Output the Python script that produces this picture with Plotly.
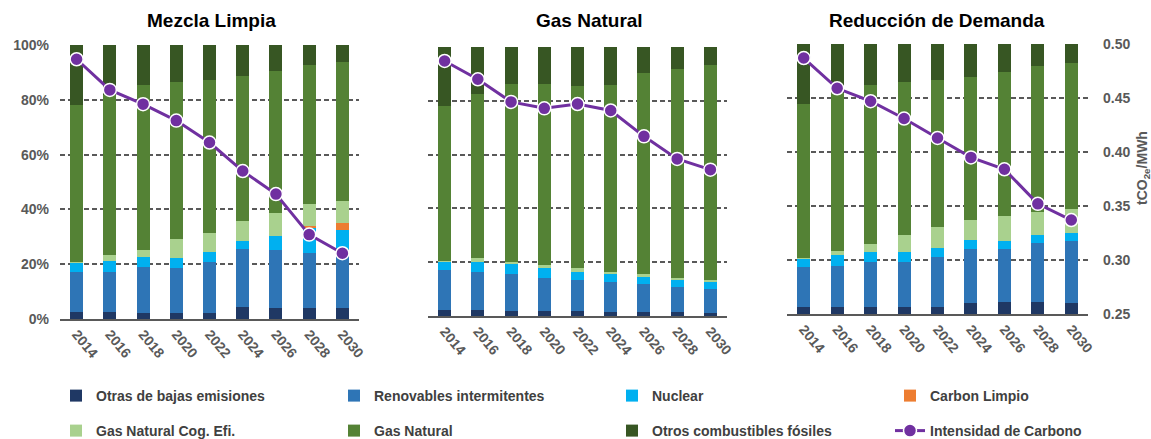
import plotly.graph_objects as go

W, H = 1151, 439

years = ["2014", "2016", "2018", "2020", "2022", "2024", "2026", "2028", "2030"]
panel_titles = ["Mezcla Limpia", "Gas Natural", "Reducción de Demanda"]
series_names = ["Otras de bajas emisiones", "Renovables intermitentes", "Nuclear",
                "Carbon Limpio", "Gas Natural Cog. Efi.", "Gas Natural",
                "Otros combustibles fósiles"]
line_name = "Intensidad de Carbono"
y_ticks_pct = [0, 20, 40, 60, 80, 100]
y_tick_labels = ["0%", "20%", "40%", "60%", "80%", "100%"]
y_ticks_int = [0.25, 0.30, 0.35, 0.40, 0.45, 0.50]
y2_title = "tCO<sub>2e</sub>/MWh"

# ---- Mezcla Limpia (share of generation, %) ----
ml_otras = [2.4, 2.4, 2.1, 2.1, 2.1, 4.5, 4.1, 3.9, 3.9]
ml_renov = [14.9, 14.9, 17.0, 16.6, 18.8, 21.2, 21.2, 20.3, 21.6]
ml_nuclear = [3.3, 3.9, 3.6, 3.7, 3.4, 2.9, 5.0, 8.9, 7.0]
ml_carbon = [0, 0, 0, 0, 0, 0, 0, 0.8, 2.7]
ml_cog = [0.2, 2.0, 2.6, 6.9, 7.2, 7.3, 8.3, 7.9, 7.9]
ml_gas = [57.3, 58.6, 60.1, 57.1, 55.8, 52.8, 52.0, 50.8, 50.8]
ml_fosiles = [21.9, 18.2, 14.6, 13.6, 12.7, 11.3, 9.4, 7.4, 6.1]
ml_intensidad = [0.487, 0.459, 0.446, 0.431, 0.411, 0.385, 0.364, 0.327, 0.310]

# ---- Gas Natural ----
gn_otras = [2.2, 2.2, 1.9, 1.9, 1.9, 1.5, 1.5, 1.5, 1.1]
gn_renov = [14.9, 14.1, 13.7, 12.4, 11.6, 11.0, 10.4, 9.4, 9.1]
gn_nuclear = [3.1, 3.8, 3.6, 3.7, 3.0, 3.0, 2.7, 2.6, 2.3]
gn_carbon = [0, 0, 0, 0, 0, 0, 0, 0, 0]
gn_cog = [0.2, 1.6, 1.0, 1.0, 1.5, 1.0, 1.0, 0.8, 1.0]
gn_gas = [57.8, 60.8, 66.0, 67.2, 67.6, 69.4, 74.7, 77.6, 79.8]
gn_fosiles = [21.8, 17.5, 13.8, 13.8, 14.4, 14.1, 9.7, 8.1, 6.7]
gn_intensidad = [0.487, 0.470, 0.449, 0.443, 0.447, 0.441, 0.417, 0.396, 0.386]

# ---- Reducción de Demanda ----
rd_otras = [2.5, 2.5, 2.5, 2.5, 2.5, 4.1, 4.4, 4.3, 4.0]
rd_renov = [15.0, 15.4, 16.9, 16.9, 18.6, 20.1, 19.8, 22.1, 23.0]
rd_nuclear = [2.9, 3.8, 3.7, 3.7, 3.5, 3.3, 3.0, 2.9, 2.9]
rd_carbon = [0, 0, 0, 0, 0, 0, 0, 0, 0]
rd_cog = [0.2, 1.8, 2.7, 6.0, 7.7, 7.3, 9.0, 8.6, 9.0]
rd_gas = [57.2, 58.2, 59.0, 56.7, 54.5, 53.0, 53.6, 54.0, 54.2]
rd_fosiles = [22.2, 18.3, 15.2, 14.2, 13.2, 12.2, 10.2, 8.1, 6.9]
rd_intensidad = [0.487, 0.459, 0.447, 0.431, 0.413, 0.395, 0.384, 0.352, 0.337]

panels = [
    [ml_otras, ml_renov, ml_nuclear, ml_carbon, ml_cog, ml_gas, ml_fosiles, ml_intensidad],
    [gn_otras, gn_renov, gn_nuclear, gn_carbon, gn_cog, gn_gas, gn_fosiles, gn_intensidad],
    [rd_otras, rd_renov, rd_nuclear, rd_carbon, rd_cog, rd_gas, rd_fosiles, rd_intensidad],
]

colors = ["#1F3864", "#2E75B6", "#00B0F0", "#ED7D31", "#A9D18E", "#548235", "#375623"]
line_color = "#7030A0"
grey = "#595959"
FONT = "Liberation Sans, Arial, sans-serif"

# pixel geometry of the three plot areas: (x0, x1, ytop, ybottom)
boxes = [(60, 359, 45, 319), (428, 727, 47, 316), (787, 1088, 44, 314)]

fig = go.Figure()

legend_ids = ["legend", "legend2", "legend3", "legend4", "legend5", "legend6", "legend7", "legend8"]

for p, data in enumerate(panels):
    xa = "x" if p == 0 else f"x{p+1}"
    ya = "y" if p == 0 else f"y{p+1}"
    ya2 = f"y{p+4}"
    for s in range(7):
        fig.add_trace(go.Bar(
            x=years, y=data[s], name=series_names[s], marker_color=colors[s],
            marker_line_width=0, width=0.39, xaxis=xa, yaxis=ya,
            showlegend=(p == 0), legend=legend_ids[s],
        ))
    fig.add_trace(go.Scatter(
        x=years, y=data[7], name=line_name, mode="lines+markers",
        line=dict(color=line_color, width=3),
        marker=dict(size=13, color=line_color, line=dict(color="white", width=1.5)),
        xaxis=xa, yaxis=ya2, showlegend=(p == 0), legend=legend_ids[7],
    ))

layout = dict(
    width=W, height=H,
    margin=dict(l=0, r=0, t=0, b=0, autoexpand=False),
    paper_bgcolor="white", plot_bgcolor="rgba(0,0,0,0)",
    barmode="stack", bargap=0.6,
    font=dict(family=FONT, color=grey),
    showlegend=True,
)

tickfont = dict(family=FONT, size=14, color=grey, weight="bold")

for p, (x0, x1, yt, yb) in enumerate(boxes):
    xk = "xaxis" if p == 0 else f"xaxis{p+1}"
    yk = "yaxis" if p == 0 else f"yaxis{p+1}"
    yk2 = f"yaxis{p+4}"
    xa = "x" if p == 0 else f"x{p+1}"
    ya = "y" if p == 0 else f"y{p+1}"
    layout[xk] = dict(
        domain=[x0 / W, x1 / W], anchor=ya, type="category",
        showline=True, linecolor=grey, linewidth=1.5, ticks="",
        tickangle=50, tickfont=tickfont, showgrid=False, automargin=False,
        range=[-0.5, 8.5],
    )
    layout[yk] = dict(
        domain=[1 - yb / H, 1 - yt / H], anchor=xa, range=[0, 100],
        tickmode="array", tickvals=y_ticks_pct, ticktext=y_tick_labels,
        showticklabels=(p == 0),
        tickfont=tickfont, ticklabelstandoff=10,
        showgrid=True, gridcolor=grey, gridwidth=1.5, griddash="5px,3px",
        zeroline=False, showline=False, ticks="", automargin=False,
    )
    layout[yk2] = dict(
        overlaying=ya, anchor=xa, range=[0.25, 0.50], side="right",
        tickmode="array", tickvals=y_ticks_int, tickformat=".2f",
        showgrid=False, zeroline=False,
        showline=False, ticks="", visible=(p == 2), tickfont=tickfont,
        ticklabelstandoff=14, automargin=False,
    )

# legends: 2 rows x 4 columns
leg_cols = [56, 334, 612, 890]
leg_rows = [396, 431]
legend_font = dict(family=FONT, size=14, color="#404040", weight="bold")
for i, lid in enumerate(legend_ids):
    cx = leg_cols[i % 4]
    cy = leg_rows[i // 4]
    layout[lid] = dict(
        x=cx / W, y=1 - cy / H, xanchor="left", yanchor="middle",
        orientation="h", bgcolor="rgba(0,0,0,0)", borderwidth=0,
        font=legend_font, itemclick=False,
    )

title_centers = [211, 589, 937]
annotations = []
for t, cx in zip(panel_titles, title_centers):
    annotations.append(dict(
        text=f"<b>{t}</b>", x=cx / W, y=1 - 21 / H, xref="paper", yref="paper",
        showarrow=False, xanchor="center", yanchor="middle",
        font=dict(family=FONT, size=19, color="black"),
    ))
annotations.append(dict(
    text=f"<b>{y2_title}</b>", x=1143 / W, y=1 - 168 / H, xref="paper", yref="paper",
    showarrow=False, xanchor="center", yanchor="middle", textangle=-90,
    font=dict(family=FONT, size=14, color=grey),
))
layout["annotations"] = annotations

fig.update_layout(**layout)
fig.write_html("out.html", config={"displayModeBar": False},
               post_script="document.body.style.margin='0';")
